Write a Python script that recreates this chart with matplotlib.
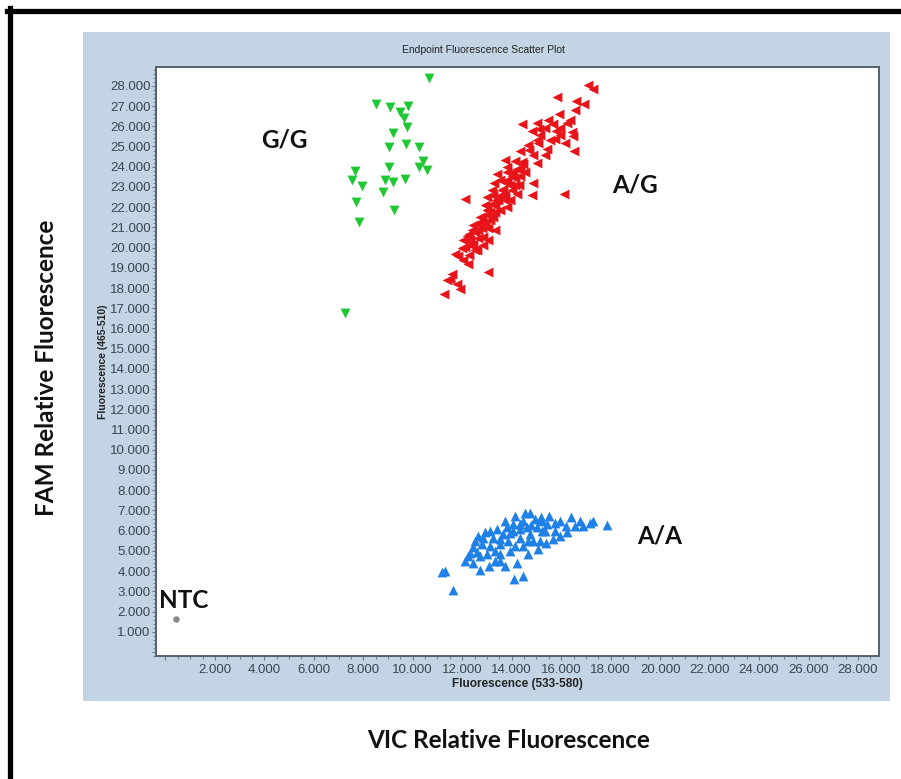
import matplotlib
matplotlib.use("Agg")
import matplotlib.pyplot as plt
from matplotlib.patches import Rectangle
from matplotlib.lines import Line2D
from matplotlib.ticker import MultipleLocator, FuncFormatter

# genotype clusters (VIC, FAM)
gg_vic = [10670, 8510, 9080, 9820, 9500, 9660, 9780, 9210, 9030, 9730, 10260, 10400, 10260,
          10560, 9030, 7680, 7540, 7930, 8880, 9210, 9670, 8810, 7700, 9240, 7840, 7270]
gg_fam = [28370, 27100, 26930, 27000, 26710, 26430, 25970, 25670, 24980, 25110, 24950, 24280, 23960,
          23860, 23990, 23790, 23330, 23030, 23330, 23230, 23410, 22750, 22240, 21880, 21280, 16760]

ag_vic = [17100, 17280, 15820, 16600, 16920, 16570, 15930, 14400, 15010, 15680, 16230, 14810, 15120,
          15790, 16430, 15010, 15750, 16490, 15080, 15440, 16160, 16520, 14340, 14710, 13730, 14130,
          14470, 15010, 13820, 14040, 13420, 14340, 14870, 13290, 13820, 14310, 13190, 13660, 14200,
          14810, 16120, 12110, 12990, 13370, 13820, 12990, 13230, 12720, 12920, 12450, 12650, 12290,
          12850, 13050, 12040, 12450, 12110, 12590, 11710, 12290, 12040, 12250, 13050, 11570, 11370,
          11780, 11910, 11260, 11510,
          13530, 13930, 13730, 13330, 13530, 13120, 12800, 12640, 12520, 13040, 13450, 14010, 14340,
          14540, 14130, 13810, 13930, 13240, 12920, 12720, 12310, 12520, 12230, 12840, 13330, 13040,
          15150, 15350, 15950, 15550, 14660, 14860, 15350, 15950, 16360, 15470,
          12190, 12400, 12600, 12800, 13000, 13200, 13410, 13610, 13810, 14010, 14220, 14420, 12310,
          12920, 13330, 13730, 11990, 11830, 13120, 13530, 14130]
ag_fam = [28030, 27820, 27450, 27260, 27090, 26800, 26600, 26100, 26140, 26100, 26140, 25770, 25840,
          25770, 25720, 25310, 25390, 25510, 25150, 24880, 25150, 24780, 24780, 24820, 24350, 24280,
          24120, 24160, 23990, 23740, 23630, 23530, 23170, 23170, 23330, 23080, 22830, 22920, 22670,
          22590, 22640, 22420, 22500, 22340, 22010, 21840, 21510, 21510, 21180, 21100, 20850, 20690,
          20520, 20360, 20360, 20190, 20030, 19900, 19700, 19610, 19370, 19200, 18790, 18710, 18380,
          18210, 17960, 17720, 18460,
          23330, 23080, 22590, 22090, 21840, 21350, 20950, 20460, 20750, 21600, 22340, 22830, 23920,
          23730, 23430, 23730, 22340, 22590, 22090, 21250, 20110, 19860, 20360, 20110, 20850, 20950,
          25560, 25900, 25900, 25310, 25060, 24570, 24570, 25560, 26300, 26300,
          20560, 20850, 21150, 21500, 21840, 22140, 22490, 22830, 23180, 23530, 23870, 24220, 20360,
          21250, 21740, 22340, 19960, 19560, 21740, 22540, 23080]

aa_vic = [14740, 15170, 15520, 15750, 16390, 16760, 16900, 17300, 17870, 16200, 16230, 15950, 15660,
          15390, 15080, 14670, 14200, 13530, 13090, 12720, 12450, 12250, 11300, 11170, 11610, 14090,
          14450, 14340, 14610, 14070, 13660, 13260, 12850, 12790, 13120, 13530, 13860, 14340, 14740,
          15010, 14870, 14470, 13930, 13530, 12990, 12590, 15210, 15420, 14470, 14070, 13800, 13390,
          12920, 12650, 12450,
          12520, 13120, 13730, 14130, 14540, 14940, 15350, 15750, 15150, 14660, 14130, 13330, 12720,
          12310, 13530, 13930, 14340, 14790, 15230, 15950, 16560, 17180, 12110, 13330, 13730]
aa_fam = [6850, 6690, 6740, 6360, 6650, 6490, 6240, 6490, 6290, 6240, 5910, 5750, 5580,
          5410, 5090, 4840, 4420, 4510, 4260, 4050, 4420, 4760, 4010, 3930, 3060, 3600,
          3760, 6330, 6160, 5990, 5830, 5660, 5660, 5330, 5250, 5330, 5500, 5660, 5830,
          6160, 5500, 5250, 5000, 4840, 4840, 4920, 5990, 6330, 6490, 6330, 6160, 6080,
          5910, 5750, 5170,
          5500, 5990, 6490, 6740, 6890, 6590, 5990, 5990, 5500, 5500, 5250, 5000, 4760,
          4900, 5600, 5890, 6090, 6290, 6490, 6490, 6240, 6390, 4510, 4510, 4260]

ntc_vic = [430]
ntc_fam = [1630]

labels = ["G/G", "A/G", "A/A", "NTC"]
label_pos = [(4830, 25310), (18990, 23080), (20000, 5750), (750, 2530)]

W, H = 901, 779
fig = plt.figure(figsize=(W / 100, H / 100), dpi=100)
fig.patch.set_facecolor("white")

# light blue panel behind the plot
fig.patches.append(Rectangle((83 / W, 1 - 701 / H), 807 / W, 669 / H,
                             transform=fig.transFigure, facecolor="#c3d5e4",
                             edgecolor="none", zorder=-5))
# black frame (top and left edges)
fig.lines.append(Line2D([9.5 / W, 9.5 / W], [1 - 8 / H, 0], transform=fig.transFigure,
                        color="black", lw=3.8))
fig.lines.append(Line2D([7 / W, 1], [1 - 10.5 / H, 1 - 10.5 / H], transform=fig.transFigure,
                        color="black", lw=3.8))

ax = fig.add_axes([156 / W, 1 - 656 / H, 723 / W, 589 / H])
ax.set_facecolor("white")
ax.set_zorder(2)

ax.scatter(gg_vic, gg_fam, marker="v", s=50, color="#1ec832", linewidths=0, zorder=3)
ax.scatter(ag_vic, ag_fam, marker="<", s=50, color="#e8141a", linewidths=0, zorder=3)
ax.scatter(aa_vic, aa_fam, marker="^", s=50, color="#1f80e8", linewidths=0, zorder=3)
ax.scatter(ntc_vic, ntc_fam, marker="o", s=22, color="#8a8a8a", linewidths=0, zorder=3)

for lab, (lx, ly) in zip(labels, label_pos):
    ax.text(lx, ly, lab, fontsize=17.5, fontweight="bold", family="Lato",
            color="#111111", ha="center", va="center", zorder=4)

ax.set_xlim(-380, 28850)
ax.set_ylim(-200, 28930)

tick_font = ["Liberation Sans", "DejaVu Sans"]
ax.xaxis.set_major_locator(MultipleLocator(2000))
ax.xaxis.set_minor_locator(MultipleLocator(500))
ax.yaxis.set_major_locator(MultipleLocator(1000))
ax.yaxis.set_minor_locator(MultipleLocator(200))
fmt = FuncFormatter(lambda v, p: "" if v <= 0 else "{:,.0f}".format(v / 1000).replace(",", ".") + ".000")
ax.xaxis.set_major_formatter(fmt)
ax.yaxis.set_major_formatter(fmt)
ax.tick_params(which="both", direction="out", color="#6a7682", labelcolor="#3a4550",
               labelsize=9.5)
ax.tick_params(which="major", length=3, width=0.8)
ax.tick_params(which="minor", length=2, width=0.6)
ax.tick_params(axis="y", pad=1)
ax.tick_params(axis="x", pad=3)
for lbl in ax.get_xticklabels() + ax.get_yticklabels():
    lbl.set_family(tick_font)

for sp in ax.spines.values():
    sp.set_color("#56606a")
    sp.set_linewidth(1.4)

ax.set_xlabel("Fluorescence (533-580)", fontsize=8.5, fontweight="bold", color="#222222",
              family=tick_font, labelpad=1)
ax.set_ylabel("Fluorescence (465-510)", fontsize=7.5, fontweight="bold", color="#222222",
              family=tick_font, labelpad=1)
fig.text(483 / W, 1 - 50 / H, "Endpoint Fluorescence Scatter Plot", fontsize=7.5,
         color="#222222", family=tick_font, ha="center", va="center")

fig.text(47 / W, 1 - 368 / H, "FAM Relative Fluorescence", rotation=90, fontsize=17.5,
         fontweight="bold", family="Lato", color="#111111", ha="center", va="center")
fig.text(509 / W, 1 - 740 / H, "VIC Relative Fluorescence", fontsize=17.5,
         fontweight="bold", family="Lato", color="#111111", ha="center", va="center")

fig.savefig("out.png", dpi=100)
